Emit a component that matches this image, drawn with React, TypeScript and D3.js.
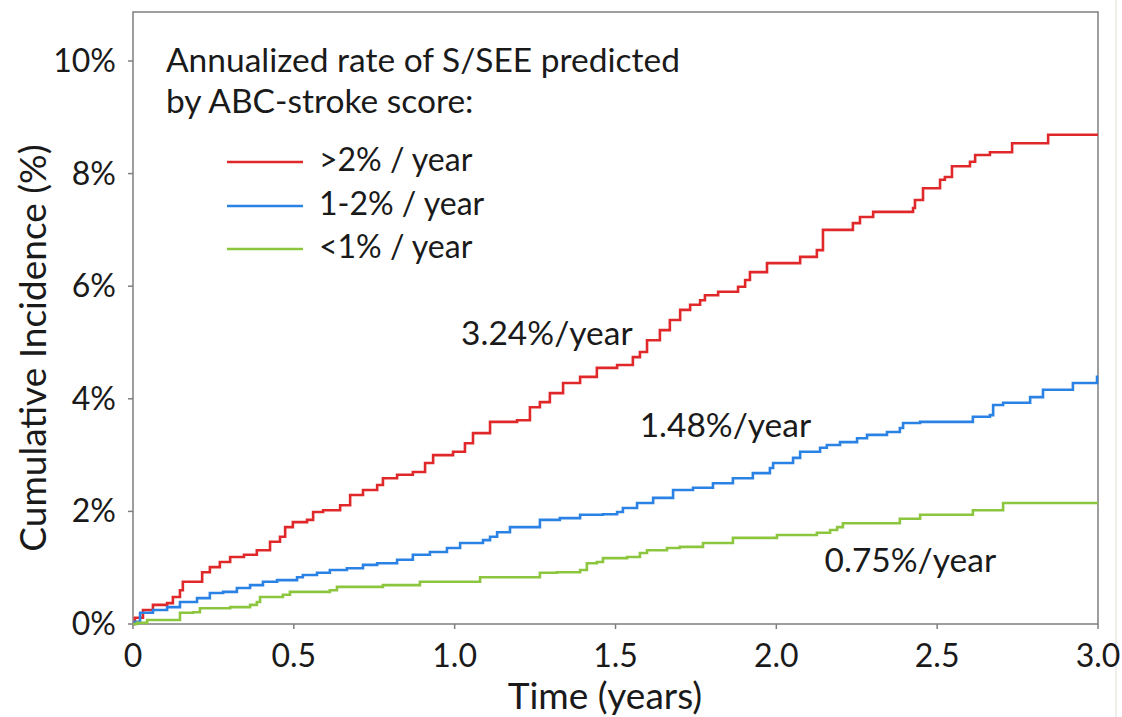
import React from "react";
import * as d3 from "d3";

// ---- Data ----
const redTimes = [0, 0.006, 0.031, 0.062, 0.106, 0.124, 0.146, 0.155, 0.215, 0.239, 0.27, 0.302, 0.345, 0.385, 0.426, 0.457, 0.473, 0.497, 0.541, 0.56, 0.591, 0.644, 0.675, 0.715, 0.759, 0.777, 0.821, 0.87, 0.908, 0.933, 0.995, 1.032, 1.057, 1.11, 1.194, 1.234, 1.265, 1.296, 1.337, 1.39, 1.442, 1.505, 1.554, 1.576, 1.598, 1.638, 1.669, 1.701, 1.732, 1.763, 1.778, 1.819, 1.881, 1.903, 1.918, 1.971, 2.074, 2.126, 2.145, 2.238, 2.26, 2.301, 2.425, 2.431, 2.456, 2.509, 2.524, 2.546, 2.602, 2.618, 2.664, 2.733, 2.845, 3.0];
const redValues = [0, 0.11, 0.25, 0.34, 0.37, 0.48, 0.6, 0.75, 0.92, 1.01, 1.1, 1.19, 1.23, 1.31, 1.46, 1.55, 1.72, 1.81, 1.85, 1.99, 2.02, 2.11, 2.29, 2.38, 2.47, 2.59, 2.65, 2.7, 2.86, 3.0, 3.06, 3.21, 3.39, 3.59, 3.62, 3.85, 3.94, 4.1, 4.28, 4.39, 4.55, 4.6, 4.74, 4.83, 5.04, 5.22, 5.4, 5.58, 5.67, 5.75, 5.84, 5.9, 5.99, 6.11, 6.25, 6.41, 6.52, 6.64, 7.0, 7.12, 7.23, 7.32, 7.39, 7.53, 7.74, 7.89, 7.94, 8.13, 8.21, 8.33, 8.38, 8.54, 8.69, 8.69];

const blueTimes = [0, 0.006, 0.022, 0.062, 0.106, 0.146, 0.199, 0.239, 0.28, 0.323, 0.364, 0.404, 0.448, 0.51, 0.528, 0.572, 0.612, 0.665, 0.715, 0.759, 0.821, 0.87, 0.923, 0.976, 1.017, 1.088, 1.11, 1.132, 1.172, 1.265, 1.327, 1.39, 1.461, 1.505, 1.523, 1.567, 1.617, 1.679, 1.741, 1.803, 1.865, 1.927, 1.98, 1.99, 2.052, 2.074, 2.136, 2.157, 2.198, 2.251, 2.282, 2.344, 2.384, 2.394, 2.447, 2.611, 2.664, 2.674, 2.705, 2.789, 2.829, 2.922, 2.997, 3.0];
const blueValues = [0, 0.04, 0.2, 0.25, 0.3, 0.39, 0.46, 0.55, 0.57, 0.64, 0.69, 0.75, 0.78, 0.83, 0.87, 0.91, 0.96, 0.99, 1.05, 1.08, 1.14, 1.23, 1.28, 1.35, 1.44, 1.49, 1.55, 1.63, 1.72, 1.85, 1.88, 1.94, 1.95, 1.99, 2.06, 2.15, 2.24, 2.38, 2.42, 2.5, 2.59, 2.68, 2.77, 2.86, 2.95, 3.06, 3.13, 3.18, 3.23, 3.3, 3.36, 3.41, 3.48, 3.57, 3.59, 3.68, 3.71, 3.89, 3.93, 4.03, 4.16, 4.28, 4.39, 4.39];

const greenTimes = [0, 0.012, 0.044, 0.146, 0.187, 0.208, 0.302, 0.364, 0.385, 0.395, 0.466, 0.488, 0.612, 0.634, 0.777, 0.892, 1.079, 1.265, 1.318, 1.39, 1.411, 1.442, 1.461, 1.536, 1.576, 1.598, 1.66, 1.7, 1.772, 1.865, 2.002, 2.126, 2.167, 2.189, 2.207, 2.384, 2.447, 2.611, 2.705, 3.0];
const greenValues = [0, 0.02, 0.07, 0.2, 0.21, 0.28, 0.3, 0.34, 0.39, 0.48, 0.52, 0.57, 0.6, 0.66, 0.69, 0.75, 0.83, 0.91, 0.92, 0.96, 1.08, 1.1, 1.17, 1.19, 1.26, 1.31, 1.35, 1.37, 1.44, 1.53, 1.58, 1.62, 1.67, 1.72, 1.79, 1.87, 1.94, 2.02, 2.15, 2.15];

const xTicks = [0, 0.5, 1.0, 1.5, 2.0, 2.5, 3.0];
const xTickLabels = ["0", "0.5", "1.0", "1.5", "2.0", "2.5", "3.0"];
const yTicks = [0, 2, 4, 6, 8, 10];
const yTickLabels = ["0%", "2%", "4%", "6%", "8%", "10%"];

const seriesNames = [">2% / year", "1-2% / year", "<1% / year"];
const seriesColors = ["#e0282a", "#2a82e4", "#8cc63f"];
const annotations = ["3.24%/year", "1.48%/year", "0.75%/year"];
const legendTitle = ["Annualized rate of S/SEE predicted", "by ABC-stroke score:"];

const FONT = "Lato, 'Open Sans', sans-serif";

export default function App() {
  const left = 133, right = 1098, top = 12, bottom = 624;
  const x = d3.scaleLinear().domain([0, 3]).range([left, right]);
  const y = d3.scaleLinear().domain([0, 10.87]).range([bottom, top]);

  const line = d3
    .line<[number, number]>()
    .x((d) => x(d[0]))
    .y((d) => y(d[1]))
    .curve(d3.curveStepAfter);

  const series = [
    { t: redTimes, v: redValues },
    { t: blueTimes, v: blueValues },
    { t: greenTimes, v: greenValues },
  ];

  const annPos = [
    { t: 1.02, v: 4.95 },
    { t: 1.575, v: 3.33 },
    { t: 2.15, v: 0.93 },
  ];

  const legendY = [162, 206, 249];

  return (
    <svg
      width={1122}
      height={717}
      style={{ position: "absolute", left: 0, top: 0, background: "#fff" }}
      fontFamily={FONT}
    >
      <rect x={0} y={0} width={1122} height={717} fill="#ffffff" />
      <line x1={1116} x2={1116} y1={0} y2={717} stroke="#e6ebe2" strokeWidth={1.5} />

      {/* frame */}
      <rect x={left} y={top} width={right - left} height={bottom - top} fill="none" stroke="#7f7f7f" strokeWidth={1.5} />

      {/* y ticks */}
      {yTicks.map((t, i) => (
        <g key={"y" + i}>
          <line x1={left - 5} x2={left} y1={y(t)} y2={y(t)} stroke="#7f7f7f" strokeWidth={1.5} />
          <text x={left - 17} y={y(t) + 11} textAnchor="end" fontSize={32} fill="#1a1a1a">
            {yTickLabels[i]}
          </text>
        </g>
      ))}

      {/* x ticks */}
      {xTicks.map((t, i) => (
        <g key={"x" + i}>
          <line x1={x(t)} x2={x(t)} y1={bottom} y2={bottom + 5} stroke="#7f7f7f" strokeWidth={1.5} />
          <text x={x(t)} y={bottom + 43} textAnchor="middle" fontSize={32} fill="#1a1a1a">
            {xTickLabels[i]}
          </text>
        </g>
      ))}

      {/* axis titles */}
      <text x={605} y={709} textAnchor="middle" fontSize={37} fill="#1a1a1a">
        Time (years)
      </text>
      <text
        transform={`translate(46, 348) rotate(-90)`}
        textAnchor="middle"
        fontSize={37}
        fill="#1a1a1a"
      >
        Cumulative Incidence (%)
      </text>

      {/* curves */}
      {series.map((s, i) => {
        const pts: [number, number][] = s.t.map((t, j) => [t, s.v[j]]);
        return (
          <path key={"s" + i} d={line(pts) || ""} fill="none" stroke={seriesColors[i]} strokeWidth={2.6} strokeLinejoin="miter" />
        );
      })}

      {/* legend */}
      <text x={166} y={72} fontSize={33.5} fill="#1a1a1a">{legendTitle[0]}</text>
      <text x={166} y={113} fontSize={33.5} fill="#1a1a1a">{legendTitle[1]}</text>
      {seriesNames.map((n, i) => (
        <g key={"l" + i}>
          <line x1={227} x2={303} y1={legendY[i]} y2={legendY[i]} stroke={seriesColors[i]} strokeWidth={2.6} />
          <text x={319} y={legendY[i] + 9} fontSize={32} fill="#1a1a1a">{n}</text>
        </g>
      ))}

      {/* annotations */}
      {annotations.map((a, i) => (
        <text key={"a" + i} x={x(annPos[i].t)} y={y(annPos[i].v)} fontSize={33.5} fill="#1a1a1a">
          {a}
        </text>
      ))}
    </svg>
  );
}
